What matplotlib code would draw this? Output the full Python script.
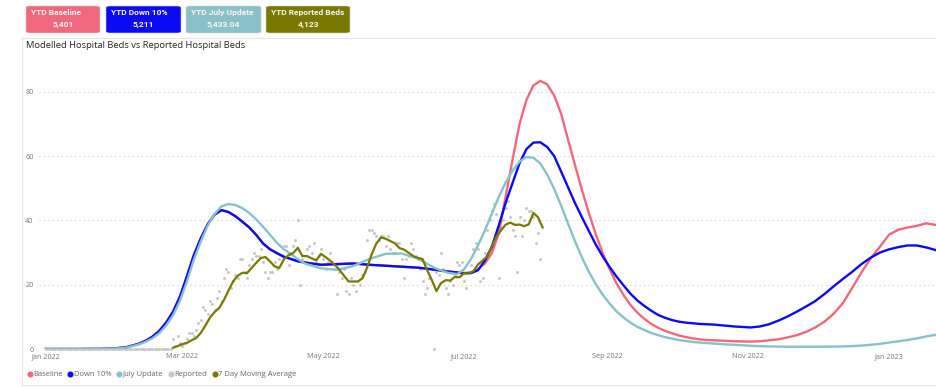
import pandas as pd
import matplotlib
matplotlib.use('Agg')
import matplotlib.pyplot as plt
from matplotlib.patches import FancyBboxPatch
from matplotlib.lines import Line2D

plt.rcParams['font.family'] = ['Open Sans', 'DejaVu Sans']

# ==========================================
# data
# ==========================================
MODEL_DATES = [
    # Jan - early Feb
    '2022-01-01', '2022-01-15', '2022-01-25', '2022-01-31', '2022-02-05',
    # first wave, every 3 days
    '2022-02-10', '2022-02-13', '2022-02-16', '2022-02-19', '2022-02-22', '2022-02-25',
    '2022-02-28', '2022-03-03', '2022-03-06', '2022-03-09', '2022-03-12', '2022-03-15',
    '2022-03-18', '2022-03-21', '2022-03-24', '2022-03-27', '2022-03-30', '2022-04-02',
    '2022-04-05', '2022-04-08', '2022-04-11', '2022-04-14', '2022-04-17', '2022-04-20',
    '2022-04-23',
    # plateau, weekly
    '2022-04-30', '2022-05-07', '2022-05-14', '2022-05-21', '2022-05-28', '2022-06-04',
    '2022-06-11', '2022-06-18', '2022-06-24', '2022-06-28',
    # second wave, every 3 days
    '2022-07-01', '2022-07-04', '2022-07-07', '2022-07-10', '2022-07-13', '2022-07-16',
    '2022-07-19', '2022-07-22', '2022-07-25', '2022-07-28', '2022-07-31', '2022-08-03',
    '2022-08-06', '2022-08-09', '2022-08-12', '2022-08-15', '2022-08-18', '2022-08-21',
    '2022-08-24', '2022-08-27', '2022-08-30', '2022-09-02', '2022-09-05', '2022-09-08',
    '2022-09-11', '2022-09-14', '2022-09-17', '2022-09-20', '2022-09-23', '2022-09-26',
    '2022-09-29', '2022-10-02', '2022-10-05', '2022-10-08', '2022-10-11', '2022-10-14',
    '2022-10-17', '2022-10-20', '2022-10-23', '2022-10-26',
    # third wave start, every 4 days
    '2022-11-02', '2022-11-06', '2022-11-10', '2022-11-14', '2022-11-18', '2022-11-22',
    '2022-11-26', '2022-11-30', '2022-12-04', '2022-12-08', '2022-12-12', '2022-12-16',
    '2022-12-20', '2022-12-24', '2022-12-28', '2023-01-01', '2023-01-05', '2023-01-09',
    '2023-01-13', '2023-01-17', '2023-01-21',
]
baseline = [
    0, 0, 0.05, 0.2, 0.6,
    1.6, 2.5, 3.8, 5.6, 8.2, 11.6, 16.3, 22.6, 29.2, 34.4, 38.8, 41.8,
    43.2, 42.6, 41.3, 39.6, 37.8, 35.5, 32.8, 31.0, 29.8, 28.7, 28.0, 27.3,
    26.9,
    26.2, 26.4, 26.6, 26.2, 25.9, 25.6, 25.3, 24.7, 24.1, 23.8,
    23.6, 23.8, 24.8, 26.6, 29.8, 36, 47.5, 59, 70, 77.5, 82, 83.4,
    82.3, 78.8, 73.2, 65.1, 57.2, 49.5, 42.3, 35.7, 29.8, 24.8, 20.4, 16.8,
    13.7, 11.3, 9.4, 7.8, 6.6, 5.6, 4.9, 4.2, 3.7, 3.3, 3.0, 2.8,
    2.7, 2.6, 2.5, 2.4,
    2.3, 2.4, 2.7, 3.0, 3.6, 4.3, 5.3, 6.7, 8.5, 11, 14.3, 19,
    23.8, 28.2, 31.8, 35.6, 37.1, 37.8, 38.3, 39.1, 38.6,
]
down_10 = [
    0, 0, 0.05, 0.2, 0.6,
    1.6, 2.5, 3.8, 5.6, 8.2, 11.6, 16.3, 22.6, 29.2, 34.4, 38.8, 41.8,
    43.2, 42.6, 41.3, 39.6, 37.8, 35.5, 32.8, 31.0, 29.8, 28.7, 28.0, 27.3,
    26.9,
    26.2, 26.4, 26.6, 26.2, 25.9, 25.6, 25.3, 24.7, 24.1, 23.8,
    23.6, 23.6, 24.5, 27.5, 31.8, 38.4, 45.5, 51.7, 57.8, 62.2, 64.2, 64.3,
    62.8, 60, 55.2, 50.3, 45.4, 41, 36.7, 32.5, 28.8, 25.5, 22.5, 19.8,
    17.2, 15.1, 13.4, 11.9, 10.6, 9.7, 9.0, 8.5, 8.2, 8.0, 7.8, 7.7,
    7.6, 7.4, 7.2, 7.0,
    6.7, 7.0, 7.7, 8.8, 10.1, 11.6, 13.2, 14.9, 17.1, 19.5, 21.8, 24,
    26.4, 28.4, 30, 31, 31.7, 32.2, 32.2, 31.6, 30.8,
]
july_update = [
    0, 0, 0.05, 0.15, 0.45,
    1.4, 2.2, 3.3, 4.9, 7.3, 10.5, 15, 21, 27.8, 33.4, 38.4, 42,
    44.4, 45.1, 44.8, 43.8, 42.3, 40.3, 38, 35.5, 33, 31, 29.5, 28,
    26.6,
    25.1, 24.6, 25.8, 28.0, 29.6, 29.7, 28.1, 25.3, 23.7, 23.3,
    24.8, 28, 32.2, 36.9, 42.1, 47.3, 51.8, 55.5, 58.3, 59.7, 59.5, 57.7,
    54.2, 49.8, 44.6, 39, 33.5, 28.5, 24, 20.2, 16.9, 14.1, 11.7, 9.8,
    8.2, 6.9, 5.9, 5.0, 4.3, 3.7, 3.2, 2.8, 2.5, 2.2, 2.0, 1.85,
    1.7, 1.55, 1.4, 1.3,
    1.0, 0.9, 0.8, 0.75, 0.7, 0.7, 0.7, 0.7, 0.72, 0.75, 0.8, 0.9,
    1.05, 1.3, 1.6, 2.0, 2.4, 2.8, 3.3, 3.9, 4.4,
]

# daily reported beds from 2022-01-01 (flat at zero until late February)
REPORTED_START = '2022-01-01'
reported = [0] * 53 + [
    0, 0, 3, 1, 4, 2, 1, 2, 3, 5,
    5, 4, 6, 8, 9, 13, 12, 11, 15, 14,
    12, 16, 18, 15, 22, 25, 24, 19, 21, 23,
    22, 28, 28, 24, 22, 26, 28, 30, 29, 29,
    31, 27, 24, 22, 24, 24, 27, 25, 28, 29,
    32, 32, 26, 30, 32, 34, 40, 20, 28, 27,
    31, 32, 30, 33, 27, 29, 31, 28, 25, 27,
    30, 27, 25, 17, 24, 22, 25, 18, 17, 22,
    20, 18, 21, 20, 23, 24, 34, 37, 37, 36,
    35, 34, 35, 35, 32, 35, 31, 30, 30, 33,
    33, 28, 22, 28, 29, 33, 31, 29, 28, 25,
    21, 17, 19, 22, 25, 0, 24, 23, 30, 25,
    19, 17, 21, 20, 23, 27, 26, 27, 21, 19,
    24, 26, 31, 33, 31, 21, 22, 30, 37, 40,
    43, 45, 42, 22, 38, 40, 44, 46, 41, 37,
    35, 24, 41, 35, 40, 44, 43, 43, 41, 33,
    36, 28,
]

# 7 day moving average, read every second day
MA_START, MA_END = '2022-02-25', '2022-08-04'
moving_avg = [
    0.4, 0.9, 1.5, 1.9, 2.7, 3.4, 5.0, 7.3, 9.8, 11.5,
    12.8, 15.2, 18.2, 21.0, 22.8, 23.7, 23.6, 25.2, 26.8, 28.3,
    28.6, 27.2, 25.7, 25.2, 27.9, 29.2, 29.8, 31.5, 28.9, 28.9,
    28.2, 27.6, 29.6, 28.6, 27.5, 26.2, 24.7, 22.8, 21.0, 21.0,
    21.0, 22.0, 25.3, 29.5, 32.8, 34.7, 34.3, 33.6, 32.9, 31.4,
    30.9, 29.9, 28.9, 28.3, 28.0, 24.5, 21.5, 18.0, 20.5, 21.4,
    21.3, 22.4, 22.3, 23.6, 23.5, 24.2, 26.3, 27.5, 28.8, 32.0,
    35.0, 36.9, 38.7, 39.3, 38.6, 38.7, 38.2, 38.8, 42.3, 41.0,
    37.8,
]

cards = [('YTD Baseline', '5,401'), ('YTD Down 10%', '5,211'),
         ('YTD July Update', '5,433.04'), ('YTD Reported Beds', '4,123')]
series_names = ['Baseline', 'Down 10%', 'July Update', 'Reported', '7 Day Moving Average']
tick_dates = ['2022-01-01', '2022-03-01', '2022-05-01', '2022-07-01',
              '2022-09-01', '2022-11-01', '2023-01-01']
tick_labels = ['Jan 2022', 'Mar 2022', 'May 2022', 'Jul 2022', 'Sep 2022', 'Nov 2022', 'Jan 2023']

# ==========================================
# styling
# ==========================================
PINK = '#F1687C'
BLUE = '#0A0AF5'
TEAL = '#88C1C8'
GREY = '#C6C6C6'
OLIVE = '#797900'
colors = [PINK, BLUE, TEAL, GREY, OLIVE]

W, H = 936, 387
fig = plt.figure(figsize=(W / 100, H / 100), dpi=100)


def fx(px):
    return px / W


def fy(py):
    return 1 - py / H


# KPI cards across the top
card_boxes = [(26, 100), (106, 181), (186, 261), (266, 350)]
card_font = ['Roboto', 'DejaVu Sans']
for (label, value), (x0, x1), c in zip(cards, card_boxes, [PINK, BLUE, TEAL, OLIVE]):
    box = FancyBboxPatch((fx(x0), fy(33)), fx(x1 - x0), fy(6) - fy(33),
                         boxstyle='round,pad=0,rounding_size=0.004',
                         transform=fig.transFigure, facecolor=c, edgecolor='#d0d0d0',
                         linewidth=0.4, zorder=1)
    fig.patches.append(box)
    fig.text(fx(x0 + 5), fy(12.5), label, color='#FDF3F5', fontsize=6.0, fontweight='bold',
             va='center', ha='left', family=card_font)
    fig.text(fx((x0 + x1) / 2), fy(24.5), value, color='#FDF3F5', fontsize=6.0, fontweight='bold',
             va='center', ha='center', family=card_font)

# visual border
border = '#E6E6E6'
fig.add_artist(Line2D([fx(22), 1], [fy(38), fy(38)], color=border, lw=0.8))
fig.add_artist(Line2D([fx(22), fx(22)], [fy(38), fy(385)], color=border, lw=0.8))
fig.add_artist(Line2D([fx(22), 1], [fy(385), fy(385)], color=border, lw=0.8))

fig.text(fx(26), fy(45.5), 'Modelled Hospital Beds vs Reported Hospital Beds',
         fontsize=6.75, color='#252423', va='center', ha='left')

# plot area: day 0 sits at x=46, 2.31 px per day; y=0 at 349, 3.215 px per bed
left_px, top_px = 39, 349 - 90 * 3.215
ax = fig.add_axes([fx(left_px), fy(349), 1 - fx(left_px), fy(top_px) - fy(349)])

start = pd.Timestamp('2022-01-01')
ax.set_xlim(start - pd.Timedelta(days=(46 - left_px) / 2.31),
            start + pd.Timedelta(days=(W - 46) / 2.31))
ax.set_ylim(0, 90)

model_dates = pd.to_datetime(MODEL_DATES)
rep_dates = pd.date_range(REPORTED_START, periods=len(reported), freq='D')
ma_dates = pd.date_range(MA_START, MA_END, freq='2D')

ax.scatter(rep_dates, reported, s=4.5, color=GREY, linewidths=0, zorder=2, clip_on=False)
ax.plot(model_dates, baseline, color=PINK, lw=1.7, zorder=3, solid_joinstyle='round')
ax.plot(model_dates, down_10, color=BLUE, lw=1.7, zorder=4, solid_joinstyle='round')
ax.plot(model_dates, july_update, color=TEAL, lw=1.7, zorder=5, solid_joinstyle='round')
ax.plot(ma_dates, moving_avg, color=OLIVE, lw=1.6, zorder=6, solid_joinstyle='round')

for s in ax.spines.values():
    s.set_visible(False)
ax.set_yticks([0, 20, 40, 60, 80])
ax.set_yticklabels(['0', '20', '40', '60', '80'])
ax.grid(axis='y', color='#CFCFCF', linestyle=(0, (1, 3)), linewidth=0.8)
ax.set_axisbelow(True)
ax.set_xticks(pd.to_datetime(tick_dates))
ax.set_xticklabels(tick_labels)
ax.tick_params(axis='both', length=0, labelsize=5.2, labelcolor='#777777')
ax.tick_params(axis='y', pad=4)
ax.tick_params(axis='x', pad=3)

# legend along the bottom
handles = [Line2D([], [], marker='o', linestyle='', markersize=4.4,
                  markerfacecolor=c, markeredgewidth=0) for c in colors]
fig.legend(handles, series_names, loc='center left', bbox_to_anchor=(fx(25), fy(374.5)),
           ncol=5, frameon=False, fontsize=5.5, handletextpad=-0.1, columnspacing=0.35,
           handlelength=1.2, borderaxespad=0, borderpad=0, labelcolor='#666666')

fig.savefig('out.png', dpi=100)
